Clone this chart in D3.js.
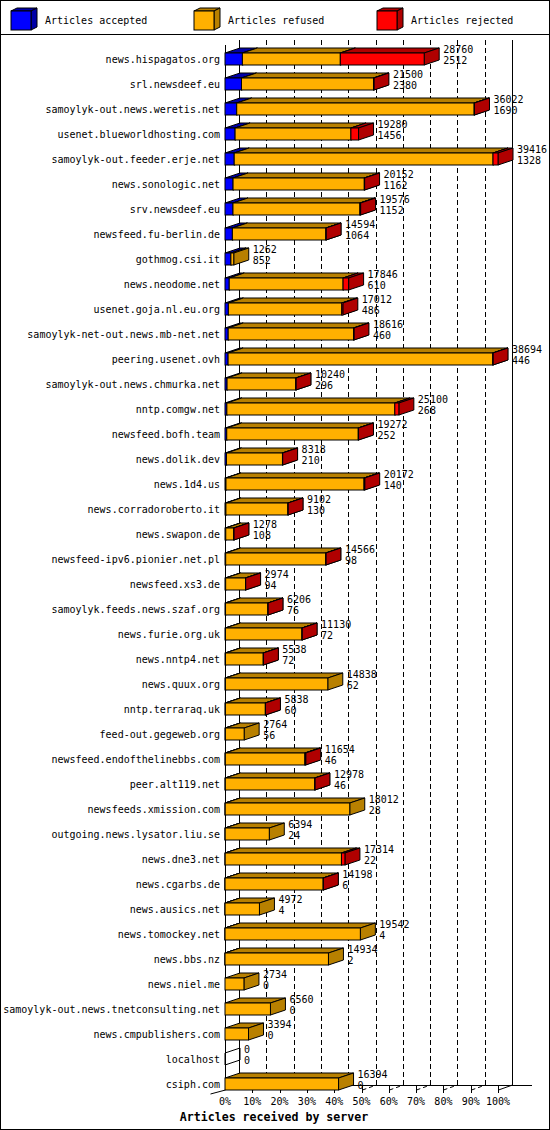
<!DOCTYPE html>
<html><head><meta charset="utf-8">
<script src="https://cdn.jsdelivr.net/npm/d3@7/dist/d3.min.js"></script>
<style>
html,body{margin:0;padding:0;background:#fff;}
svg{display:block;}
text{font-family:"DejaVu Sans Mono","Liberation Mono",monospace;font-size:10px;fill:#000;}
</style></head>
<body>
<svg id="chart" width="550" height="1130"></svg>
<script>
const servers = ["news.hispagatos.org","srl.newsdeef.eu","samoylyk-out.news.weretis.net","usenet.blueworldhosting.com","samoylyk-out.feeder.erje.net","news.sonologic.net","srv.newsdeef.eu","newsfeed.fu-berlin.de","gothmog.csi.it","news.neodome.net","usenet.goja.nl.eu.org","samoylyk-net-out.news.mb-net.net","peering.usenet.ovh","samoylyk-out.news.chmurka.net","nntp.comgw.net","newsfeed.bofh.team","news.dolik.dev","news.1d4.us","news.corradoroberto.it","news.swapon.de","newsfeed-ipv6.pionier.net.pl","newsfeed.xs3.de","samoylyk.feeds.news.szaf.org","news.furie.org.uk","news.nntp4.net","news.quux.org","nntp.terraraq.uk","feed-out.gegeweb.org","newsfeed.endofthelinebbs.com","peer.alt119.net","newsfeeds.xmission.com","outgoing.news.lysator.liu.se","news.dne3.net","news.cgarbs.de","news.ausics.net","news.tomockey.net","news.bbs.nz","news.niel.me","samoylyk-out.news.tnetconsulting.net","news.cmpublishers.com","localhost","csiph.com"];
const accepted = [2512,2380,1690,1456,1328,1162,1152,1064,852,610,486,460,446,296,268,252,210,140,130,108,98,94,76,72,72,62,60,56,46,46,28,24,22,6,4,4,2,0,0,0,0,0];
const refused  = [14136,19060,34282,16724,37368,18950,18324,13500,410,16436,16376,18096,38208,9924,24252,18990,8088,19932,8952,1160,14448,2870,6120,11038,5456,14776,5768,2708,11488,12912,17984,6370,16792,14172,4968,19538,14932,2734,6560,3394,0,16394];
const rejected = [12112,60,50,1100,720,40,100,30,0,800,150,60,40,20,580,30,20,100,20,10,20,10,10,20,10,0,10,0,120,20,0,0,500,20,0,0,0,0,0,0,0,0];
const received = [28760,21500,36022,19280,39416,20152,19576,14594,1262,17846,17012,18616,38694,10240,25100,19272,8318,20172,9102,1278,14566,2974,6206,11130,5538,14838,5838,2764,11654,12978,18012,6394,17314,14198,4972,19542,14934,2734,6560,3394,0,16394];
const percentTicks = [0,10,20,30,40,50,60,70,80,90,100];
const legendLabels = ["Articles accepted","Articles refused","Articles rejected"];
const seriesColors = [
  {front:"#0000FF", dark:"#0000A8"},
  {front:"#FFB000", dark:"#B88000"},
  {front:"#FF0000", dark:"#B00000"}
];

const svg = d3.select("#chart");
const W = 550, H = 1130;
const X0 = 225, X1 = 498;      // front plane
const DX = 14, DY = 5;         // wall depth
const BDX = 15, BDY = 5;       // bar depth
const TOP = 40, FLOOR = 1090;
const BH = 12;

const x = d3.scaleLinear().domain([0, d3.max(received)]).range([X0, X1]);
const xp = d3.scaleLinear().domain([0, 100]).range([X0, X1]);
const y = d3.scalePoint().domain(servers).range([59, 1084]);

svg.append("rect").attr("x",0.5).attr("y",0.5).attr("width",W-1).attr("height",H-1)
  .attr("fill","#fff").attr("stroke","#000");
svg.append("line").attr("x1",0).attr("x2",W).attr("y1",34.5).attr("y2",34.5).attr("stroke","#000");

// legend
const legX = [11, 194, 377];
legendLabels.forEach((lab,i)=>{
  const g = svg.append("g");
  const fx = legX[i], fy = 11, fw = 20, fh = 19, d = 6, dd = 3;
  g.append("polygon").attr("points",[[fx,fy],[fx+d,fy-dd],[fx+fw+d,fy-dd],[fx+fw,fy]].join(" "))
    .attr("fill",seriesColors[i].dark).attr("stroke","#000");
  g.append("polygon").attr("points",[[fx+fw,fy],[fx+fw+d,fy-dd],[fx+fw+d,fy+fh-dd],[fx+fw,fy+fh]].join(" "))
    .attr("fill",seriesColors[i].dark).attr("stroke","#000");
  g.append("rect").attr("x",fx).attr("y",fy).attr("width",fw).attr("height",fh)
    .attr("fill",seriesColors[i].front).attr("stroke","#000");
  g.append("text").attr("x",fx+fw+d+8).attr("y",24).text(lab);
});

// back wall grid
const grid = svg.append("g").attr("shape-rendering","crispEdges");
percentTicks.forEach(p=>{
  const bx = Math.round(xp(p)+DX)+0.5;
  grid.append("line").attr("x1",bx).attr("x2",bx).attr("y1",TOP).attr("y2",FLOOR-DY)
    .attr("stroke","#000").attr("stroke-dasharray",(p===0||p===100)?null:"5,3");
});
svg.append("line").attr("x1",X0+0.5).attr("x2",X0+0.5).attr("y1",45).attr("y2",FLOOR)
  .attr("stroke","#000").attr("shape-rendering","crispEdges");
svg.append("line").attr("x1",X0+DX).attr("x2",532).attr("y1",FLOOR-DY+0.5).attr("y2",FLOOR-DY+0.5)
  .attr("stroke","#000").attr("shape-rendering","crispEdges");
// floor diagonals and ticks
percentTicks.forEach(p=>{
  const fx = Math.round(xp(p))+0.5;
  if (p>0 && p<100) {
    svg.append("line").attr("x1",fx).attr("y1",FLOOR).attr("x2",fx+DX).attr("y2",FLOOR-DY)
      .attr("stroke","#000").attr("stroke-dasharray","4,3");
  }
  if (p===100) {
    svg.append("line").attr("x1",fx).attr("y1",FLOOR).attr("x2",fx+DX).attr("y2",FLOOR-DY).attr("stroke","#000");
  }
  if (p===0) {
    svg.append("line").attr("x1",fx-15).attr("y1",FLOOR+4).attr("x2",fx).attr("y2",FLOOR).attr("stroke","#000");
  } else {
    svg.append("line").attr("x1",fx).attr("x2",fx).attr("y1",FLOOR-4).attr("y2",FLOOR+3)
      .attr("stroke","#000").attr("shape-rendering","crispEdges");
  }
  svg.append("text").attr("x",xp(p)).attr("y",1105).attr("text-anchor","middle").text(p+"%");
});

// bars
const bars = svg.append("g");
servers.forEach((s,i)=>{
  const c = y(s);
  const vals = [accepted[i], refused[i], rejected[i]];
  const g = bars.append("g");
  const top = c - BH/2, bot = c + BH/2;
  if (received[i] === 0) {
    g.append("polygon").attr("points",[[X0,top],[X0+BDX,top-BDY],[X0+BDX,bot-BDY],[X0,bot]].join(" "))
      .attr("fill","none").attr("stroke","#000");
  }
  let acc = 0;
  vals.forEach((v,k)=>{
    if (!(v>0)) return;
    const xa = x(acc), xb = x(acc+v);
    acc += v;
    g.append("polygon").attr("points",[[xa,top],[xa+BDX,top-BDY],[xb+BDX,top-BDY],[xb,top]].join(" "))
      .attr("fill",seriesColors[k].dark).attr("stroke","#000").attr("stroke-linejoin","miter");
    g.append("polygon").attr("points",[[xb,top],[xb+BDX,top-BDY],[xb+BDX,bot-BDY],[xb,bot]].join(" "))
      .attr("fill",seriesColors[k].dark).attr("stroke","#000");
    g.append("rect").attr("x",xa).attr("y",top).attr("width",Math.max(0,xb-xa)).attr("height",BH)
      .attr("fill",seriesColors[k].front).attr("stroke","#000");
  });
  const lx = x(received[i]) + BDX + 4;
  svg.append("text").attr("x",lx).attr("y",c-6).text(received[i]);
  svg.append("text").attr("x",lx).attr("y",c+5).text(accepted[i]);
  svg.append("text").attr("x",220).attr("y",c+4).attr("text-anchor","end").text(s);
});

svg.append("text").attr("x",274).attr("y",1121).attr("text-anchor","middle")
  .style("font-weight","bold").style("font-size","11.6px").text("Articles received by server");
</script>
</body></html>
